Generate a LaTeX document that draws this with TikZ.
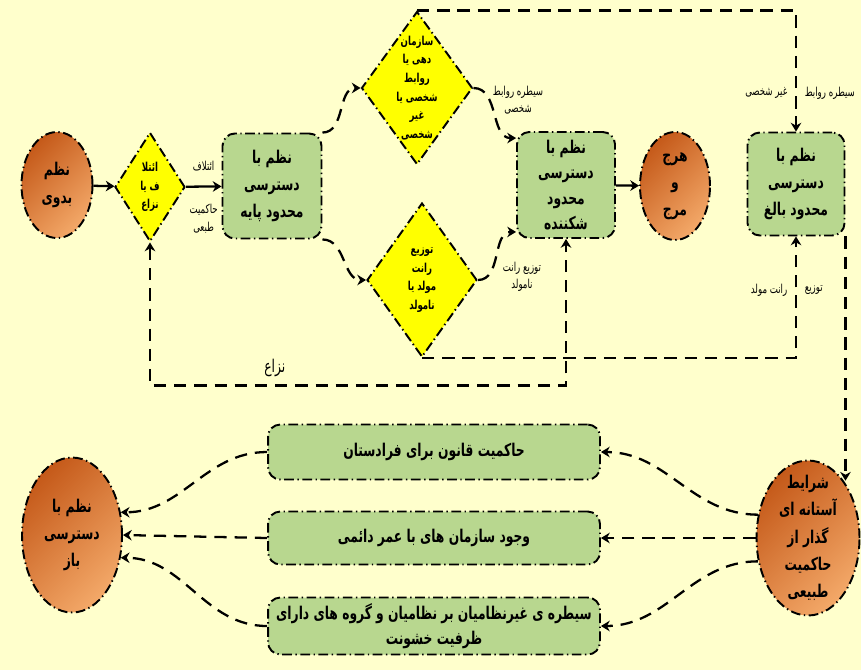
\documentclass[tikz,border=0pt]{standalone}
\usepackage{fontspec}
\newfontfamily\arabicfont[Script=Arabic, FakeStretch=0.7]{DejaVu Sans}
\TeXXeTstate=1
\usetikzlibrary{positioning,shapes.geometric,arrows.meta}

\definecolor{bgpaper}{HTML}{FFFFCC}
\definecolor{boxgreen}{HTML}{B8D78F}
\definecolor{diayellow}{HTML}{FFFF00}
\definecolor{orgdark}{HTML}{C55A1A}
\definecolor{orglight}{HTML}{F3A868}

\tikzset{
  dashdot/.style={dash pattern=on 5.5pt off 2pt on 0.8pt off 2pt},
  greenbox/.style={draw, line width=1.1pt, dashdot, rounded corners=7pt, fill=boxgreen,
    align=center, inner sep=2pt, font=\arabicfont\bfseries\fontsize{10}{15.5}\selectfont},
  ydiamond/.style={diamond, draw, line width=1.1pt, dashdot, fill=diayellow, inner sep=0pt},
  oellipse/.style={ellipse, draw, line width=1.1pt, dashdot, top color=orgdark,
    bottom color=orglight, shading angle=45, inner sep=0pt},
  bigtext/.style={align=center, font=\arabicfont\bfseries\fontsize{10}{15.5}\selectfont},
  ditext/.style={align=center, font=\arabicfont\bfseries\fontsize{7}{10.6}\selectfont},
  smalllabel/.style={align=center, font=\arabicfont\fontsize{7}{10}\selectfont},
  flow/.style={line width=1.3pt, dash pattern=on 7pt off 4.5pt, -{Stealth[length=5pt,width=6pt]}},
  solidflow/.style={line width=1.3pt, -{Stealth[length=5pt,width=6pt]}},
}

\begin{document}
\begin{tikzpicture}[x=0.02cm, y=-0.02cm]
  \fill[bgpaper] (0,0) rectangle (861,670);
  \useasboundingbox (0,0) rectangle (861,670);

  % upper row
  \node[oellipse, minimum width=1.42cm, minimum height=2.12cm,
    label={[bigtext]center:\beginR نظم\endR\\\beginR بدوی\endR}] (bedavi) at (57,185) {};
  \node[ydiamond, minimum width=1.4cm, minimum height=2.18cm,
    label={[ditext]center:\beginR ائتلا\endR\\\beginR ف یا\endR\\\beginR نزاع\endR}] (conflict) at (150,187) {};
  \node[greenbox, minimum width=1.98cm, minimum height=2.1cm] (basic) at (272,186)
    {\beginR نظم با\endR\\\beginR دسترسی\endR\\\beginR محدود پایه\endR};
  \node[ydiamond, minimum width=2.22cm, minimum height=3.06cm,
    label={[ditext]center:\beginR سازمان\endR\\\beginR دهی یا\endR\\\beginR روابط\endR\\\beginR شخصی یا\endR\\\beginR غیر\endR\\\beginR شخصی\endR}] (orgdia) at (417,88) {};
  \node[ydiamond, minimum width=2.2cm, minimum height=3.08cm,
    label={[ditext]center:\beginR توزیع\endR\\\beginR رانت\endR\\\beginR مولد یا\endR\\\beginR نامولد\endR}] (rentdia) at (422,280) {};
  \node[greenbox, minimum width=1.96cm, minimum height=2.12cm,
    font=\arabicfont\bfseries\fontsize{10}{14.5}\selectfont] (fragile) at (566,185)
    {\beginR نظم با\endR\\\beginR دسترسی\endR\\\beginR محدود\endR\\\beginR شکننده\endR};
  \node[oellipse, minimum width=1.4cm, minimum height=2.16cm,
    label={[bigtext]center:\beginR هرج\endR\\\beginR و\endR\\\beginR مرج\endR}] (chaos) at (675,186) {};
  \node[greenbox, minimum width=1.94cm, minimum height=2.06cm] (mature) at (796,184)
    {\beginR نظم با\endR\\\beginR دسترسی\endR\\\beginR محدود بالغ\endR};

  % lower row
  \node[oellipse, minimum width=2.06cm, minimum height=3.1cm,
    label={[bigtext]center:\beginR شرایط\endR\\\beginR آستانه ای\endR\\\beginR گذار از\endR\\\beginR حاکمیت\endR\\\beginR طبیعی\endR}] (threshold) at (808,538) {};
  \node[oellipse, minimum width=2.0cm, minimum height=3.1cm,
    label={[bigtext]center:\beginR نظم با\endR\\\beginR دسترسی\endR\\\beginR باز\endR}] (open) at (72,535) {};
  \node[greenbox, minimum width=6.64cm, minimum height=1.1cm] (law) at (434,452)
    {\beginR حاکمیت قانون برای فرادستان\endR};
  \node[greenbox, minimum width=6.64cm, minimum height=1.06cm] (perm) at (434,538)
    {\beginR وجود سازمان های با عمر دائمی\endR};
  \node[greenbox, minimum width=6.64cm, minimum height=1.14cm,
    font=\arabicfont\bfseries\fontsize{10}{14}\selectfont] (civil) at (434,626)
    {\beginR سیطره ی غیرنظامیان بر نظامیان و گروه های دارای\endR\\\beginR ظرفیت خشونت\endR};

  % connectors
  \draw[solidflow] (bedavi) -- (conflict);
  \draw[solidflow] (conflict) -- (basic)
    node[midway, above=5pt, smalllabel] {\beginR ائتلاف\endR}
    node[midway, below=6pt, smalllabel] {\beginR حاکمیت\endR\\\beginR طبعی\endR};
  \draw[flow] (basic.north east) to[out=0, in=180] (orgdia.west);
  \draw[flow] (basic.south east) to[out=0, in=180] (rentdia.west);
  \draw[flow] (orgdia.east) to[out=0, in=180] ([yshift=-4pt]fragile.north west);
  \node[smalllabel] (lblpers) at (518,100) {\beginR سیطره روابط\endR\\\beginR شخصی\endR};
  \draw[flow] (rentdia.east) to[out=0, in=180] ([yshift=4pt]fragile.south west);
  \node[smalllabel] (lblunprod) at (522,277) {\beginR توزیع رانت\endR\\\beginR نامولد\endR};
  \draw[solidflow] (fragile) -- (chaos);
  \draw[flow] (orgdia.north) -| (mature.north)
    node[pos=0.84, left=1pt, smalllabel] {\beginR غیر شخصی\endR}
    node[pos=0.84, right=1pt, smalllabel] {\beginR سیطره روابط\endR};
  \draw[flow] (rentdia.south) -| (mature.south)
    node[pos=0.78, left=1pt, smalllabel] {\beginR رانت مولد\endR}
    node[pos=0.78, right=1pt, smalllabel] {\beginR توزیع\endR};
  \draw[flow, {Stealth[length=5pt,width=6pt]}-{Stealth[length=5pt,width=6pt]}]
    (conflict.south) -- ++(0,143) -| (fragile.south)
    node[pos=0.15, above=1pt, font=\arabicfont\fontsize{10}{12}\selectfont] {\beginR نزاع\endR};
  \draw[flow] (mature.south east) -- (mature.south east |- threshold.58);

  \draw[flow] (threshold.155) to[out=180, in=0] (law.east);
  \draw[flow] (threshold.west) -- (perm.east);
  \draw[flow] (threshold.205) to[out=180, in=0] (civil.east);
  \draw[flow] (law.west) to[out=180, in=0] (open.25);
  \draw[flow] (perm.west) -- (open.east);
  \draw[flow] (civil.west) to[out=180, in=0] (open.-25);
\end{tikzpicture}
\end{document}
